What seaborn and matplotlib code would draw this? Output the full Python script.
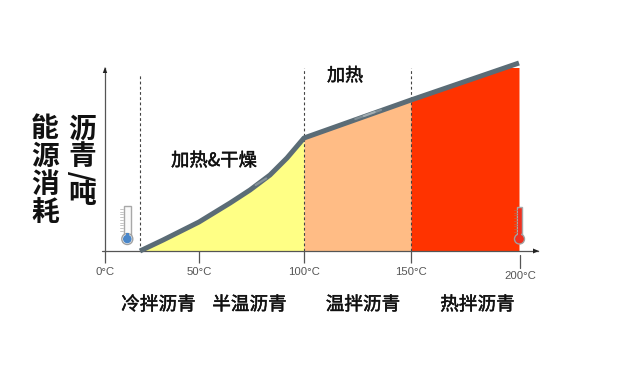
import numpy as np
import pandas as pd
import matplotlib
matplotlib.use("Agg")
import matplotlib.pyplot as plt
import matplotlib.patheffects as pe
from matplotlib.patches import Rectangle, Circle
from matplotlib.ticker import NullLocator
from matplotlib.transforms import Affine2D
import seaborn as sns

temps = [18.6, 30.9, 50, 64.8, 74.3, 83.8, 91.9, 100, 150, 200]
energy = [0, 11, 29, 48, 61, 76, 93, 113, 151, 188]
tick_temps = [0, 50, 100, 150, 200]
tick_labels = ["0°C", "50°C", "100°C", "150°C", "200°C"]
zone_labels = ["冷拌沥青", "半温沥青", "温拌沥青", "热拌沥青"]
zone_colors = ["#FFFF85", "#FFBC85", "#FF3300"]
zone_edges = [(18.6, 100), (100, 150), (150, 200)]
dividers = [18.6, 100, 150]

sns.set_style("white")
plt.rcParams["font.family"] = ["Noto Sans CJK SC", "DejaVu Sans"]

W, H = 640, 376
fig = plt.figure(figsize=(W / 100, H / 100), dpi=100, facecolor="white")
ax = fig.add_axes([105 / W, (H - 251) / H, (538 - 105) / W, (251 - 68) / H])

knots_t = [0, 50, 100, 150, 200, 300]
knots_p = [105, 199, 304, 411, 519, 627]
ax.set_xscale("function", functions=(
    lambda t: np.interp(t, knots_t, knots_p),
    lambda p: np.interp(p, knots_p, knots_t)))
ax.set_xlim(0, 217.6)
ax.set_ylim(0, 183)
ax.patch.set_alpha(0)

df = pd.DataFrame({"temp": temps, "energy": energy})
for (lo, hi), c in zip(zone_edges, zone_colors):
    part = df[(df.temp >= lo) & (df.temp <= hi)]
    ax.fill_between(part.temp, 0, part.energy, color=c, lw=0, zorder=1)

sns.lineplot(data=df, x="temp", y="energy", ax=ax, color="#5B6C76", lw=3.6,
             sort=False, errorbar=None, zorder=3, solid_capstyle="butt",
             solid_joinstyle="round", clip_on=False)
# pale worn highlights on the line
ax.plot([124, 136], [132.0, 141.1], color="#D5DADC", lw=1.6, alpha=.3, zorder=4)
ax.plot([128, 133], [135.0, 138.9], color="#E6E9EA", lw=1.6, alpha=.35, zorder=4)
ax.plot([77, 82], [66, 72.5], color="#D5DADC", lw=1.6, alpha=.35, zorder=4)

for i, d in enumerate(dividers):
    ax.plot([d, d], [0, 176 if i == 0 else 183], color="#444444", lw=0.8,
            ls=(0, (2.5, 2.2)), zorder=2, clip_on=False)

ax.set_xlabel("")
ax.set_ylabel("")
ax.set_xticks(tick_temps[:-1], tick_labels[:-1], fontfamily="Liberation Sans",
              fontsize=8.2, color="#555555")
ax.set_yticks([])
ax.xaxis.set_minor_locator(NullLocator())
ax.tick_params(axis="x", length=8.5, width=0.9, color="#555555", pad=3.0, bottom=True)
for s in ("top", "right"):
    ax.spines[s].set_visible(False)
for s in ("left", "bottom"):
    ax.spines[s].set_color("#555555")
    ax.spines[s].set_linewidth(0.9)
    ax.spines[s].set_zorder(2)

px = Affine2D().scale(1, -1).translate(0, H)  # figure pixels, y down
thick = [pe.withStroke(linewidth=0.35, foreground="#111111")]


def line(x, y, **kw):
    fig.add_artist(plt.Line2D(x, y, transform=px, **kw))


def label(x, y, s, **kw):
    return fig.text(x, y, s, transform=px, ha="center", va="center", **kw)


# axis extras
line([102, 105], [251, 251], color="#555555", lw=0.9)
line([519.5, 519.5], [255, 268], color="#555555", lw=0.9)
label(520, 276, tick_labels[-1], fontfamily="Liberation Sans", fontsize=8.2, color="#555555")
fig.add_artist(plt.Polygon([[533, 248.5], [533, 253.5], [539, 251]], transform=px,
                           color="#222222", lw=0))
fig.add_artist(plt.Polygon([[102.8, 73], [107.2, 73], [105, 67]], transform=px,
                           color="#222222", lw=0))


# thermometers
def thermo(xc, top, by, r, tube, colour, fluid_top, inner, tickc):
    fig.add_artist(Rectangle((xc - tube / 2, top), tube, by - top, transform=px,
                             fc=inner, ec="#A8A8A8", lw=1.0))
    for k in range(9):
        yy = top + 3 + k * 2.7
        line([xc - tube / 2 - 3.5, xc - tube / 2 - 0.5], [yy, yy], color=tickc, lw=0.6)
    fig.add_artist(Circle((xc, by), r, transform=px, fc=inner, ec="#A0A0A0", lw=1.0))
    fig.add_artist(Rectangle((xc - 1.6, fluid_top), 3.2, by - fluid_top, transform=px,
                             fc=colour, lw=0))
    fig.add_artist(Circle((xc, by), r - 1.2, transform=px, fc=colour, lw=0))


thermo(127.3, 206, 239, 5.5, 7.5, "#4A86C8", 233, "#FAFAFA", "#BBBBBB")
thermo(519.5, 207, 239, 5, 5, "#F03020", 209, "#F03020", "#C86040")

# text
for y, ch in zip([129, 157, 185, 213], "能源消耗"):
    label(45, y, ch, fontsize=20, fontweight="bold", color="#111111")
for y, ch in zip([129, 157, 195], "沥青吨"):
    label(82, y, ch, fontsize=20, fontweight="bold", color="#111111")
label(82, 176, "/", fontsize=20, fontweight="bold", color="#111111", rotation=90)
label(214, 161, "加热&干燥", fontsize=13.2, color="#111111", path_effects=thick)
label(345, 76, "加热", fontsize=13, color="#111111", path_effects=thick)
for xc, s in zip([158.5, 249.5, 363, 477.5], zone_labels):
    label(xc, 305, s, fontsize=13.4, color="#111111", path_effects=thick)

fig.savefig("out.png", dpi=100, facecolor="white")
